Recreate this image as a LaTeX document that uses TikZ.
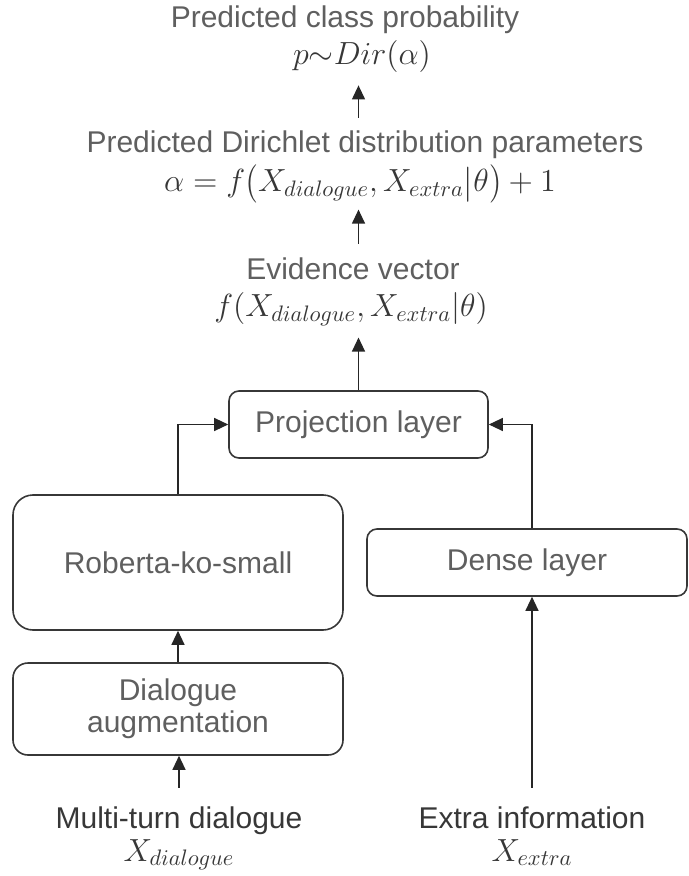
\RequirePackage{fix-cm}
\documentclass[tikz,border=0pt]{standalone}
\usepackage{amsmath,graphicx}
\usepackage[no-math]{fontspec}
\newfontfamily\labelfont{Liberation Sans}
\usepackage{tikz}
\usetikzlibrary{arrows.meta}
\definecolor{txtgrey}{RGB}{95,95,95}
\definecolor{inkgrey}{RGB}{55,55,55}
\newcommand{\tallsym}[2][1.2]{\raisebox{-0.8pt}{\scalebox{1.05}[#1]{$#2$}}}

\begin{document}
\begin{tikzpicture}[x=0.5pt,y=-0.5pt,
	box/.style={draw=inkgrey,line width=0.8pt,rounded corners=5pt,text=txtgrey,font=\labelfont\fontsize{15}{16}\selectfont,align=center},
	lbl/.style={text=txtgrey,font=\labelfont\fontsize{15}{18}\selectfont,anchor=base,inner sep=1pt},
	eq/.style={text=inkgrey,font=\fontsize{16}{18}\selectfont,anchor=base,inner sep=1pt},
	arr/.style={-{Triangle[length=7pt,width=6.5pt]},line width=0.6pt,draw=black!85}]
	\useasboundingbox (0,0) rectangle (689,876);
	% outputs
	\node[lbl] (cls) at (345,28) {Predicted class probability};
	\node[eq] (pdir) at (362,65) {$p{\sim}Dir(\alpha)$};
	\node[lbl] (dirp) at (365,153) {Predicted Dirichlet distribution parameters};
	\node[eq] (alpha) at (360,192) {$\alpha = f\mathopen{\tallsym{(}}X_{dialogue}, X_{extra}\mathord{\tallsym[1.1]{|}}\theta\mathclose{\tallsym{)}} + 1$};
	\node[lbl] (evid) at (353,280) {Evidence vector};
	\node[eq] (fx) at (351,317) {$f(X_{dialogue}, X_{extra}|\theta)$};
	% layers
	\node[box,minimum width=129.5pt,minimum height=33.5pt] (proj) at (358.5,424.5) {Projection layer};
	\node[box,minimum width=165pt,minimum height=67.5pt,rounded corners=10pt] (rob) at (178,562.5) {Roberta-ko-small};
	\node[box,minimum width=160pt,minimum height=33.5pt] (dense) at (527,562.5) {Dense layer};
	\node[box,minimum width=165pt,minimum height=46pt,rounded corners=7.5pt] (aug) at (178,709) {Dialogue\\augmentation};
	% inputs
	\node[lbl,text=inkgrey] (dlg) at (179,828) {Multi-turn dialogue};
	\node[eq] (xdlg) at (179,861) {$X_{dialogue}$};
	\node[lbl,text=inkgrey] (extra) at (532,828) {Extra information};
	\node[eq] (xext) at (532,861) {$X_{extra}$};
	% arrows
	\draw[arr,shorten <=5.5pt,shorten >=5pt] (dirp.north -| proj) -- (pdir.south -| proj);
	\draw[arr,shorten <=6pt,shorten >=2pt] (evid.north -| proj) -- (alpha.south -| proj);
	\draw[arr,shorten >=4.5pt] (proj.north) -- (fx.south -| proj);
	\draw[arr] (rob.north) |- (proj.west);
	\draw[arr] (extra.north |- dense.north) |- (proj.east);
	\draw[arr] (aug.north) -- (rob.south);
	\draw[arr,shorten <=8pt] (dlg.north) -- (dlg.north |- aug.south);
	\draw[arr,shorten <=8pt] (extra.north) -- (extra.north |- dense.south);
\end{tikzpicture}
\end{document}
